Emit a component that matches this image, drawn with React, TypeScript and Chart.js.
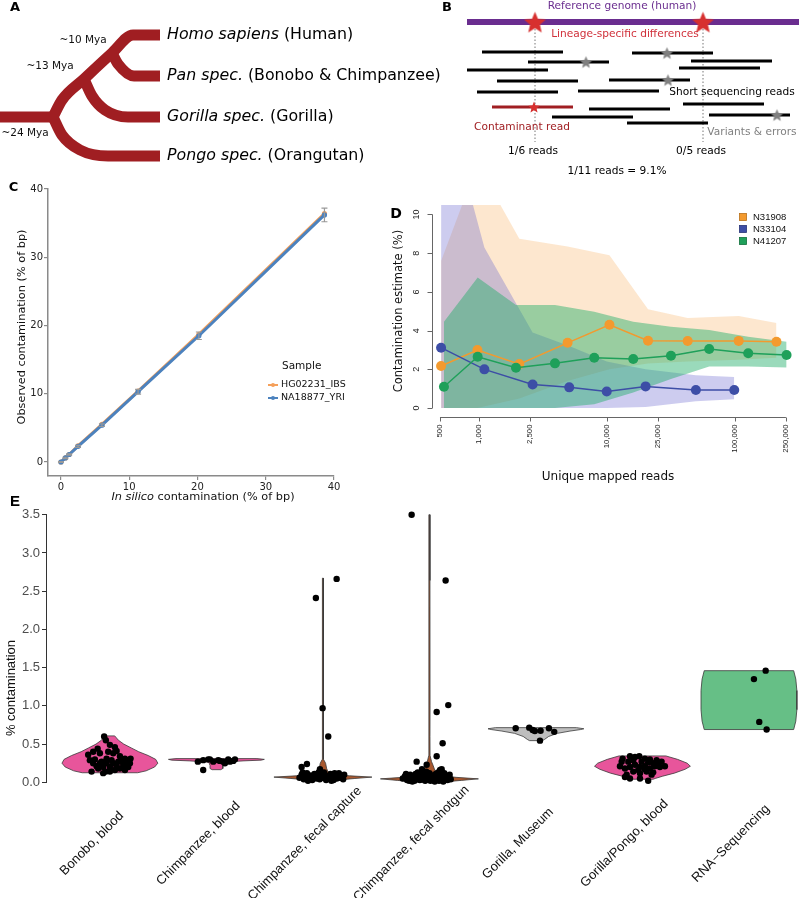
import React, { useEffect, useRef } from "react";
import { Chart, registerables } from "chart.js";

Chart.register(...registerables);

const DV = "'DejaVu Sans', sans-serif";
const LS = "'Liberation Sans', Arial, sans-serif";

/* ---------------- Panel A : phylogeny ---------------- */
const SPECIES_LATIN = ["Homo sapiens", "Pan spec.", "Gorilla spec.", "Pongo spec."];
const SPECIES_COMMON = [" (Human)", " (Bonobo & Chimpanzee)", " (Gorilla)", " (Orangutan)"];
const TIP_ROW = [35, 76, 117, 156];
const SPLIT_AGES = ["~10 Mya", "~13 Mya", "~24 Mya"];
const SPLIT_AGE_X = [83, 50, 25];
const SPLIT_AGE_ROW = [40, 66, 133];
const BRANCH_X = [
  [0, 58],
  [53, 62, 84, 112, 133, 160],
  [112, 118, 134, 160],
  [84, 92, 105, 128, 160],
  [53, 62, 80, 108, 160],
];
const BRANCH_Y = [
  [117, 117],
  [117, 100, 79, 53, 35, 35],
  [53, 64, 76, 76],
  [79, 96, 110, 117, 117],
  [117, 135, 150, 156, 156],
];
const LABEL_START = 167;

/* ---------------- Panel B : read diagram ---------------- */
const READ_START = [82, 128, 67, 97, 77, 92, 152, 178, 189, 232, 291, 279, 209, 283, 309, 227];
const READ_ROW = [52, 62, 70, 81, 92, 107, 117, 91, 109, 53, 61, 68, 80, 104, 115, 123];
const READ_LENGTH = 81;
const CONTAMINANT_READ = 5;
const SITE_POS = [135, 303];
const REF_ROW = 22;
const REF_SPAN = [67, 399];
const VARIANT_POS = [186, 267, 268, 377];
const VARIANT_ROW = [62, 53, 80, 115];
const SITE_COUNTS = ["1/6 reads", "0/5 reads"];
const TOTAL_LABEL = "1/11 reads = 9.1%";

/* ---------------- Panel C : in silico contamination ---------------- */
const C_INSILICO = [0, 0.65, 1.2, 2.5, 6.0, 11.3, 20.2, 38.6];
const C_HG02231_IBS = [0, 0.6, 1.1, 2.35, 5.5, 10.4, 18.7, 36.4];
const C_NA18877_YRI = [0, 0.6, 1.1, 2.3, 5.4, 10.3, 18.5, 36.2];
const C_ERROR = [0.05, 0.1, 0.1, 0.15, 0.2, 0.35, 0.55, 1.0];
const C_TICKS = [0, 10, 20, 30, 40];
const C_SERIES = ["HG02231_IBS", "NA18877_YRI"];

/* ---------------- Panel D : subsampling ---------------- */
const D_N31908_READS = [510, 980, 2080, 4950, 10500, 21000, 42800, 107000, 211000];
const D_N31908_EST = [2.17, 3.0, 2.27, 3.37, 4.3, 3.48, 3.46, 3.47, 3.43];
const D_N31908_HI = [7.6, 12.6, 8.75, 8.35, 7.9, 5.1, 4.65, 4.75, 4.4];
const D_N31908_LO = [0, 0, 0.5, 1.4, 2.0, 2.3, 2.4, 2.5, 2.6];
const D_N33104_READS = [510, 1110, 2640, 5100, 10000, 20100, 49600, 98800];
const D_N33104_EST = [3.12, 2.0, 1.22, 1.07, 0.86, 1.12, 0.93, 0.93];
const D_N33104_HI = [16.6, 8.3, 3.9, 3.2, 2.4, 2.0, 1.7, 1.6];
const D_N33104_LO = [0, 0, 0, 0, 0, 0.05, 0.35, 0.45];
const D_N41207_READS = [537, 984, 1958, 3946, 7990, 16100, 31700, 63000, 127000, 253000];
const D_N41207_EST = [1.1, 2.65, 2.08, 2.31, 2.6, 2.53, 2.7, 3.05, 2.83, 2.74];
const D_N41207_HI = [4.46, 6.75, 5.32, 5.32, 4.98, 4.46, 4.2, 4.03, 3.68, 3.43];
const D_N41207_LO = [0, 0, 0, 0, 0.2, 0.8, 1.5, 2.15, 2.15, 2.1];
const D_X_TICKS = [500, 1000, 2500, 10000, 25000, 100000, 250000];
const D_Y_TICKS = [0, 2, 4, 6, 8, 10];
const D_SAMPLES = ["N31908", "N33104", "N41207"];

/* ---------------- Panel E : violins ---------------- */
const E_CATEGORIES = [
  "Bonobo, blood",
  "Chimpanzee, blood",
  "Chimpanzee, fecal capture",
  "Chimpanzee, fecal shotgun",
  "Gorilla, Museum",
  "Gorilla/Pongo, blood",
  "RNA\u2212Sequencing",
];
const E_LEVELS = [
  [0.125, 0.15, 0.2, 0.25, 0.3, 0.35, 0.4, 0.45, 0.5, 0.55, 0.607],
  [0.165, 0.18, 0.22, 0.26, 0.27, 0.28, 0.29, 0.3, 0.31],
  [0.025, 0.05, 0.068, 0.085, 0.1, 0.13, 0.18, 0.25, 0.3, 0.6, 0.97, 2.41, 2.67],
  [0.0, 0.025, 0.045, 0.065, 0.09, 0.12, 0.16, 0.22, 0.27, 0.35, 0.6, 1.0, 2.64, 3.5],
  [0.545, 0.56, 0.6, 0.64, 0.67, 0.69, 0.7, 0.715],
  [0.04, 0.05, 0.08, 0.12, 0.17, 0.21, 0.25, 0.3, 0.345],
  [0.69, 0.8, 0.95, 1.08, 1.2, 1.35, 1.46],
];
const E_HALF_WIDTH = [
  [0.26, 0.34, 0.42, 0.45, 0.43, 0.36, 0.27, 0.2, 0.13, 0.08, 0.045],
  [0.04, 0.06, 0.06, 0.07, 0.12, 0.25, 0.42, 0.45, 0.38],
  [0.1, 0.3, 0.46, 0.25, 0.1, 0.05, 0.035, 0.025, 0.006, 0.005, 0.005, 0.005, 0.004],
  [0.1, 0.3, 0.46, 0.25, 0.1, 0.06, 0.05, 0.035, 0.02, 0.006, 0.005, 0.006, 0.005, 0.004],
  [0.06, 0.08, 0.12, 0.2, 0.32, 0.42, 0.45, 0.38],
  [0.1, 0.12, 0.19, 0.3, 0.4, 0.45, 0.42, 0.33, 0.22],
  [0.42, 0.44, 0.45, 0.45, 0.45, 0.44, 0.42],
];
const E_FILL = ["#E8559B", "#E8559B", "#A9582F", "#A9582F", "#BEBEBE", "#E8559B", "#66BF86"];

const BONOBO_VALUE = [0.6, 0.55, 0.44, 0.49, 0.46, 0.41, 0.36, 0.4, 0.38, 0.29, 0.3, 0.27, 0.31, 0.29, 0.34, 0.31, 0.29, 0.25, 0.23, 0.21, 0.2, 0.2, 0.21, 0.14, 0.12, 0.14, 0.14, 0.16, 0.18, 0.16, 0.2, 0.25, 0.25, 0.25, 0.27, 0.29, 0.25, 0.18, 0.38, 0.4, 0.25, 0.31];
const BONOBO_JITTER = [-0.054, -0.038, -0.115, 0, 0.047, 0.063, -0.204, -0.157, -0.094, -0.188, -0.141, -0.078, -0.031, 0.016, 0.094, 0.141, 0.172, 0.188, 0.125, 0.063, 0, -0.063, -0.125, -0.172, -0.063, -0.038, 0, 0.047, 0.094, 0.141, 0.172, -0.094, -0.031, 0.031, 0.078, 0.11, -0.157, -0.11, 0.031, -0.016, 0.15, 0.194];
const CHIMP_BLOOD_VALUE = [0.27, 0.16, 0.3, 0.27, 0.29, 0.27, 0.3, 0.28, 0.3, 0.25, 0.29, 0.3, 0.27, 0.28];
const CHIMP_BLOOD_JITTER = [-0.174, -0.124, -0.077, -0.03, 0.017, 0.064, 0.111, 0.158, 0.174, 0.08, -0.124, -0.061, 0.127, 0.033];
const FECAL_CAPTURE_VALUE = [2.66, 2.41, 0.97, 0.6, 0.2, 0.24, 0.17, 0.06, 0.1, 0.04, 0.08, 0.12, 0.05, 0.09, 0.03, 0.07, 0.11, 0.05, 0.08, 0.04, 0.1, 0.06, 0.13, 0.03, 0.08, 0.05, 0.11, 0.07, 0.03, 0.09, 0.05, 0.12, 0.06, 0.08, 0.04, 0.1, 0.02, 0.02, 0.13, 0.12, 0.13];
const FECAL_CAPTURE_JITTER = [0.129, -0.066, -0.003, 0.05, -0.2, -0.15, -0.028, -0.22, -0.2, -0.18, -0.16, -0.15, -0.13, -0.12, -0.1, -0.09, -0.08, -0.06, -0.05, -0.03, -0.02, 0.0, 0.01, 0.03, 0.04, 0.06, 0.07, 0.09, 0.1, 0.12, 0.13, 0.15, 0.16, 0.18, 0.19, 0.2, -0.14, 0.08, -0.04, 0.11, -0.19];
const FECAL_SHOTGUN_VALUE = [3.5, 2.64, 1.01, 0.92, 0.51, 0.34, 0.27, 0.23, 0.17, 0.05, 0.08, 0.03, 0.06, 0.1, 0.04, 0.07, 0.02, 0.11, 0.05, 0.08, 0.03, 0.06, 0.12, 0.04, 0.09, 0.02, 0.06, 0.1, 0.04, 0.07, 0.02, 0.05, 0.09, 0.03, 0.06, 0.11, 0.04, 0.08, 0.02, 0.05, 0.1, 0.03, 0.07, 0.12, 0.05, 0.08, 0.03, 0.06, 0.1, 0.04, 0.11, 0.01, 0.13, 0.12, 0.01, 0.02, 0.01, 0.14, 0.13, 0.16, 0.17];
const FECAL_SHOTGUN_JITTER = [-0.167, 0.152, 0.177, 0.068, 0.124, 0.068, -0.12, -0.026, 0.115, -0.25, -0.23, -0.21, -0.2, -0.18, -0.17, -0.15, -0.14, -0.13, -0.12, -0.1, -0.09, -0.08, -0.07, -0.06, -0.05, -0.04, -0.03, -0.02, -0.01, 0.0, 0.01, 0.02, 0.03, 0.04, 0.05, 0.06, 0.07, 0.08, 0.09, 0.1, 0.11, 0.12, 0.13, 0.14, 0.15, 0.16, 0.17, 0.18, 0.19, 0.2, -0.22, -0.16, -0.11, 0.0, 0.05, -0.19, 0.13, -0.03, 0.08, 0.1, -0.07];
const GORILLA_MUSEUM_VALUE = [0.707, 0.715, 0.685, 0.67, 0.675, 0.707, 0.66, 0.545];
const GORILLA_MUSEUM_JITTER = [-0.19, -0.063, -0.031, -0.01, 0.044, 0.122, 0.172, 0.038];
const GORILLA_PONGO_VALUE = [0.31, 0.34, 0.33, 0.34, 0.31, 0.3, 0.29, 0.27, 0.21, 0.21, 0.18, 0.2, 0.23, 0.2, 0.21, 0.18, 0.21, 0.2, 0.14, 0.12, 0.14, 0.13, 0.1, 0.07, 0.05, 0.05, 0.02, 0.27, 0.27, 0.29, 0.27, 0.26, 0.25, 0.24, 0.16, 0.17, 0.1];
const GORILLA_PONGO_JITTER = [-0.186, -0.117, -0.07, -0.03, 0.023, 0.07, 0.133, 0.18, 0.211, -0.211, -0.164, -0.117, -0.07, -0.023, 0.023, 0.07, 0.117, 0.164, -0.086, -0.023, 0.039, 0.101, -0.148, -0.164, -0.117, -0.023, 0.054, -0.195, -0.133, -0.086, -0.008, 0.054, 0.101, 0.148, -0.039, 0.023, 0.086];
const RNA_VALUE = [1.46, 1.35, 0.79, 0.69];
const RNA_JITTER = [0.157, 0.047, 0.097, 0.166];

const E_VALUES = [BONOBO_VALUE, CHIMP_BLOOD_VALUE, FECAL_CAPTURE_VALUE, FECAL_SHOTGUN_VALUE, GORILLA_MUSEUM_VALUE, GORILLA_PONGO_VALUE, RNA_VALUE];
const E_JITTERS = [BONOBO_JITTER, CHIMP_BLOOD_JITTER, FECAL_CAPTURE_JITTER, FECAL_SHOTGUN_JITTER, GORILLA_MUSEUM_JITTER, GORILLA_PONGO_JITTER, RNA_JITTER];

/* ---------------- helpers ---------------- */
const BASE: any = {
  responsive: false,
  maintainAspectRatio: false,
  animation: false,
  devicePixelRatio: 1,
  events: [],
  plugins: { legend: { display: false }, tooltip: { enabled: false }, title: { display: false } },
};

function text(ctx: any, s: string, x: number, y: number, font: string, color: string, align: any = "center", baseline: any = "middle", rot = 0) {
  ctx.save();
  ctx.translate(x, y);
  if (rot) ctx.rotate(rot);
  ctx.font = font;
  ctx.fillStyle = color;
  ctx.textAlign = align;
  ctx.textBaseline = baseline;
  ctx.fillText(s, 0, 0);
  ctx.restore();
}

function mixed(ctx: any, parts: [string, string][], x: number, y: number, color: string, align = "left") {
  ctx.save();
  let total = 0;
  const widths = parts.map(([s, f]) => {
    ctx.font = f;
    const w = ctx.measureText(s).width;
    total += w;
    return w;
  });
  let cx = align === "center" ? x - total / 2 : x;
  ctx.fillStyle = color;
  ctx.textAlign = "left";
  ctx.textBaseline = "middle";
  parts.forEach(([s, f], i) => {
    ctx.font = f;
    ctx.fillText(s, cx, y);
    cx += widths[i];
  });
  ctx.restore();
}

function starImage(r: number, color: string) {
  const c = document.createElement("canvas");
  const s = Math.ceil(2 * r + 2);
  c.width = s;
  c.height = s;
  const g = c.getContext("2d") as CanvasRenderingContext2D;
  g.translate(s / 2, s / 2 + r * 0.1);
  g.beginPath();
  for (let i = 0; i < 10; i++) {
    const rr = i % 2 === 0 ? r : r * 0.45;
    const a = -Math.PI / 2 + (i * Math.PI) / 5;
    g.lineTo(rr * Math.cos(a), rr * Math.sin(a));
  }
  g.closePath();
  g.fillStyle = color;
  g.fill();
  return c;
}

function ChartBox({ left, top, width, height, build }: any) {
  const ref = useRef<HTMLCanvasElement>(null);
  useEffect(() => {
    const chart = new Chart(ref.current as HTMLCanvasElement, build());
    return () => chart.destroy();
  }, []);
  return (
    <canvas
      ref={ref}
      width={width}
      height={height}
      style={{ position: "absolute", left, top, width, height }}
    />
  );
}

/* ---------------- builders ---------------- */
const TREE_COLOR = "#A01E22";

function buildA(): any {
  const datasets = BRANCH_X.map((xs, b) => ({
    data: xs.map((x, k) => ({ x, y: BRANCH_Y[b][k] })),
    showLine: true,
    borderColor: TREE_COLOR,
    borderWidth: 11,
    pointRadius: 0,
    cubicInterpolationMode: "monotone",
    borderCapStyle: "butt",
    clip: false,
  }));
  const deco = {
    id: "aDeco",
    afterDatasetsDraw(chart: any) {
      const { ctx, scales } = chart;
      const X = (v: number) => scales.x.getPixelForValue(v);
      const Y = (v: number) => scales.y.getPixelForValue(v);
      text(ctx, "A", 15, 8, `bold 13px ${DV}`, "#000");
      SPLIT_AGES.forEach((s, i) => text(ctx, s, X(SPLIT_AGE_X[i]), Y(SPLIT_AGE_ROW[i]), `10.5px ${DV}`, "#111"));
      SPECIES_LATIN.forEach((s, i) =>
        mixed(ctx, [[s, `italic 15.8px ${DV}`], [SPECIES_COMMON[i], `15.8px ${DV}`]], X(LABEL_START), Y(TIP_ROW[i]), "#000")
      );
    },
  };
  return {
    type: "scatter",
    data: { datasets },
    options: {
      ...BASE,
      layout: { padding: 0, autoPadding: false },
      scales: {
        x: { type: "linear", display: false, min: 0, max: 445 },
        y: { type: "linear", display: false, min: 0, max: 190, reverse: true },
      },
    },
    plugins: [deco],
  };
}

function buildB(): any {
  const PURPLE = "#6A2D8F";
  const RED = "#D7302F";
  const datasets: any[] = [];
  READ_START.forEach((s, i) => {
    datasets.push({
      data: [{ x: s, y: READ_ROW[i] }, { x: s + READ_LENGTH, y: READ_ROW[i] }],
      showLine: true,
      borderColor: i === CONTAMINANT_READ ? TREE_COLOR : "#000",
      borderWidth: 3,
      pointRadius: 0,
      order: 1,
      clip: false,
    });
  });
  datasets.push({
    data: [{ x: REF_SPAN[0], y: REF_ROW }, { x: REF_SPAN[1], y: REF_ROW }],
    showLine: true,
    borderColor: PURPLE,
    borderWidth: 6,
    pointRadius: 0,
    order: 3,
    clip: false,
  });
  SITE_POS.forEach((p) =>
    datasets.push({
      data: [{ x: p, y: REF_ROW }, { x: p, y: 142 }],
      showLine: true,
      borderColor: "#777",
      borderWidth: 1,
      borderDash: [1.5, 2],
      pointRadius: 0,
      order: 2,
      clip: false,
    })
  );
  const bigStar = starImage(11.5, RED);
  const smallStar = starImage(6, RED);
  const grayStar = starImage(6.5, "#808080");
  datasets.push({
    data: SITE_POS.map((p) => ({ x: p, y: REF_ROW })),
    pointStyle: bigStar,
    pointRadius: 10,
    order: 0,
    clip: false,
  });
  datasets.push({
    data: [{ x: SITE_POS[0] - 1, y: READ_ROW[CONTAMINANT_READ] }],
    pointStyle: smallStar,
    pointRadius: 5,
    order: 0,
    clip: false,
  });
  datasets.push({
    data: VARIANT_POS.map((p, i) => ({ x: p, y: VARIANT_ROW[i] })),
    pointStyle: grayStar,
    pointRadius: 5,
    order: 0,
    clip: false,
  });
  const deco = {
    id: "bDeco",
    afterDatasetsDraw(chart: any) {
      const { ctx, scales } = chart;
      const X = (v: number) => scales.x.getPixelForValue(v);
      const Y = (v: number) => scales.y.getPixelForValue(v);
      const f = `10.6px ${DV}`;
      text(ctx, "B", 47, 8, `bold 13px ${DV}`, "#000");
      text(ctx, "Reference genome (human)", X(222), Y(6.5), f, PURPLE);
      text(ctx, "Lineage-specific differences", X(225), Y(34), f, "#D0303A");
      text(ctx, "Short sequencing reads", X(332), Y(92), f, "#000");
      text(ctx, "Contaminant read", X(122), Y(127), f, TREE_COLOR);
      text(ctx, "Variants & errors", X(352), Y(132), f, "#808080");
      SITE_COUNTS.forEach((s, i) => text(ctx, s, X(SITE_POS[i] - 2), Y(151), f, "#000"));
      text(ctx, TOTAL_LABEL, X(217), Y(171), f, "#000");
    },
  };
  return {
    type: "scatter",
    data: { datasets },
    options: {
      ...BASE,
      layout: { padding: 0, autoPadding: false },
      scales: {
        x: { type: "linear", display: false, min: 0, max: 399 },
        y: { type: "linear", display: false, min: 0, max: 190, reverse: true },
      },
    },
    plugins: [deco],
  };
}

function buildC(): any {
  const BLUE = "#4C82BE";
  const ORANGE = "#F5A05A";
  const AX = "#8a8a8a";
  const series = [
    { name: C_SERIES[1], vals: C_NA18877_YRI, color: BLUE },
    { name: C_SERIES[0], vals: C_HG02231_IBS, color: ORANGE },
  ];
  const datasets = series.map((s) => ({
    label: s.name,
    data: C_INSILICO.map((x, i) => ({ x, y: s.vals[i] })),
    showLine: true,
    borderColor: s.color,
    backgroundColor: s.color,
    pointBackgroundColor: s.color,
    borderWidth: 3,
    pointRadius: 2.6,
    pointBorderWidth: 0,
  }));
  const axis = (isX: boolean) => ({
    type: "linear",
    min: isX ? -1.9 : -2.05,
    max: 40,
    afterFit: (s: any) => {
      if (isX) s.height = 29;
      else s.width = 48;
    },
    afterBuildTicks: (s: any) => {
      s.ticks = C_TICKS.map((v) => ({ value: v }));
    },
    ticks: { font: { family: "DejaVu Sans", size: 10 }, color: "#222", padding: 1, maxRotation: 0 },
    grid: { display: true, drawOnChartArea: false, drawTicks: true, tickLength: 4, color: AX, lineWidth: 1.2 },
    border: { display: true, color: AX, width: 1.5 },
  });
  const deco = {
    id: "cDeco",
    afterDatasetsDraw(chart: any) {
      const { ctx, scales } = chart;
      const X = (v: number) => scales.x.getPixelForValue(v);
      const Y = (v: number) => scales.y.getPixelForValue(v);
      ctx.save();
      ctx.strokeStyle = "#999";
      ctx.lineWidth = 1.2;
      C_INSILICO.forEach((x, i) => {
        const px = X(x);
        const y1 = Y(C_NA18877_YRI[i] - C_ERROR[i]);
        const y2 = Y(C_NA18877_YRI[i] + C_ERROR[i]);
        ctx.beginPath();
        ctx.moveTo(px, y1);
        ctx.lineTo(px, y2);
        ctx.moveTo(px - 3, y1);
        ctx.lineTo(px + 3, y1);
        ctx.moveTo(px - 3, y2);
        ctx.lineTo(px + 3, y2);
        ctx.stroke();
      });
      ctx.restore();
    },
    afterDraw(chart: any) {
      const ctx = chart.ctx;
      text(ctx, "C", 13.5, 8, `bold 13px ${DV}`, "#000");
      text(ctx, "Observed contamination (% of bp)", 22, 147, `11.3px ${DV}`, "#111", "center", "middle", -Math.PI / 2);
      mixed(ctx, [["In silico", `italic 11.3px ${DV}`], [" contamination (% of bp)", `11.3px ${DV}`]], 203, 317, "#111", "center");
      text(ctx, "Sample", 282, 186, `10.5px ${DV}`, "#111", "left");
      [ORANGE, BLUE].forEach((col, i) => {
        const y = 205 + i * 13;
        ctx.save();
        ctx.strokeStyle = col;
        ctx.fillStyle = col;
        ctx.lineWidth = 2;
        ctx.beginPath();
        ctx.moveTo(268, y);
        ctx.lineTo(278, y);
        ctx.stroke();
        ctx.beginPath();
        ctx.arc(273, y, 2, 0, Math.PI * 2);
        ctx.fill();
        ctx.restore();
        text(ctx, C_SERIES[i], 281, y, `9.5px ${DV}`, "#111", "left");
      });
    },
  };
  return {
    type: "scatter",
    data: { datasets },
    options: {
      ...BASE,
      layout: { padding: { top: 9, right: 61, left: 0, bottom: 0 }, autoPadding: false },
      scales: { x: axis(true), y: axis(false) },
    },
    plugins: [deco],
  };
}

function buildD(): any {
  const COLS = ["#F39A2E", "#3D4EA6", "#1FA05A"];
  const EDGE = ["#B8701A", "#283478", "#12703C"];
  const BANDS = ["rgba(250,175,95,0.3)", "rgba(100,95,205,0.32)", "rgba(30,172,105,0.45)"];
  const READS = [D_N31908_READS, D_N33104_READS, D_N41207_READS];
  const EST = [D_N31908_EST, D_N33104_EST, D_N41207_EST];
  const HI = [D_N31908_HI, D_N33104_HI, D_N41207_HI];
  const LO = [D_N31908_LO, D_N33104_LO, D_N41207_LO];
  const pts = (xs: number[], ys: number[]) => xs.map((x, i) => ({ x, y: ys[i] }));
  const datasets: any[] = [];
  [2, 1, 0].forEach((s) =>
    datasets.push({
      data: pts(READS[s], EST[s]),
      borderColor: COLS[s],
      backgroundColor: COLS[s],
      pointBackgroundColor: COLS[s],
      borderWidth: 1.5,
      pointRadius: 5,
      pointBorderWidth: 0,
      fill: false,
      order: 0,
    })
  );
  [2, 1, 0].forEach((s) => {
    const ord = [30, 20, 10][s];
    datasets.push({
      data: pts(READS[s], HI[s]),
      borderWidth: 0,
      pointRadius: 0,
      fill: "+1",
      backgroundColor: BANDS[s],
      order: ord,
    });
    datasets.push({
      data: pts(READS[s], LO[s]),
      borderWidth: 0,
      pointRadius: 0,
      fill: false,
      order: ord,
    });
  });
  const deco = {
    id: "dDeco",
    afterDraw(chart: any) {
      const { ctx, scales, chartArea } = chart;
      const X = (v: number) => scales.x.getPixelForValue(v);
      const Y = (v: number) => scales.y.getPixelForValue(v);
      ctx.save();
      ctx.strokeStyle = "#666";
      ctx.lineWidth = 1;
      const ax = Math.round(chartArea.left) + 0.5;
      ctx.beginPath();
      ctx.moveTo(ax, Y(0));
      ctx.lineTo(ax, Y(10));
      D_Y_TICKS.forEach((v) => {
        const py = Math.round(Y(v)) + 0.5;
        ctx.moveTo(ax, py);
        ctx.lineTo(ax - 5, py);
      });
      const ay = Math.round(chartArea.bottom) + 1.5;
      ctx.moveTo(X(D_X_TICKS[0]), ay);
      ctx.lineTo(X(D_X_TICKS[D_X_TICKS.length - 1]), ay);
      D_X_TICKS.forEach((v) => {
        const px = Math.round(X(v)) + 0.5;
        ctx.moveTo(px, ay);
        ctx.lineTo(px, ay + 4);
      });
      ctx.stroke();
      ctx.restore();
      D_Y_TICKS.forEach((v) => text(ctx, String(v), 32, Y(v), `9px ${LS}`, "#222", "center", "middle", -Math.PI / 2));
      D_X_TICKS.forEach((v) =>
        text(ctx, v.toLocaleString("en-US"), X(v), ay + 7, `7.8px ${LS}`, "#222", "right", "middle", -Math.PI / 2)
      );
      text(ctx, "D", 11, 24, `bold 14px ${DV}`, "#000");
      text(ctx, "Contamination estimate (%)", 14, 121, `11.5px ${DV}`, "#111", "center", "middle", -Math.PI / 2);
      text(ctx, "Unique mapped reads", 223, 287, `12px ${DV}`, "#111");
      D_SAMPLES.forEach((s, i) => {
        const y = 27 + i * 12;
        ctx.save();
        ctx.fillStyle = COLS[i];
        ctx.strokeStyle = EDGE[i];
        ctx.lineWidth = 0.8;
        ctx.fillRect(354.5, y - 3.5, 7, 7);
        ctx.strokeRect(354.5, y - 3.5, 7, 7);
        ctx.restore();
        text(ctx, s, 368, y, `9.5px ${LS}`, "#111", "left");
      });
    },
  };
  return {
    type: "line",
    data: { datasets },
    options: {
      ...BASE,
      layout: { padding: { left: 47, top: 15, right: 0, bottom: 69 }, autoPadding: false },
      scales: {
        x: { type: "logarithmic", display: false, min: 433.2, max: 316228 },
        y: { type: "linear", display: false, min: -0.41, max: 10.49 },
      },
    },
    plugins: [deco],
  };
}

function buildE(): any {
  const datasets: any[] = [];
  E_LEVELS.forEach((lv, i) => {
    const hw = E_HALF_WIDTH[i];
    const c = i + 1;
    const poly: any[] = [];
    for (let k = 0; k < lv.length; k++) poly.push({ x: c - hw[k], y: lv[k] });
    for (let k = lv.length - 1; k >= 0; k--) poly.push({ x: c + hw[k], y: lv[k] });
    poly.push({ x: c - hw[0], y: lv[0] });
    datasets.push({
      data: poly,
      showLine: true,
      fill: "shape",
      backgroundColor: E_FILL[i],
      borderColor: "#3a3a3a",
      borderWidth: 0.8,
      pointRadius: 0,
      tension: 0,
      order: 2,
      clip: false,
    });
  });
  E_VALUES.forEach((vals, i) => {
    datasets.push({
      data: vals.map((v, k) => ({ x: i + 1 + E_JITTERS[i][k], y: v })),
      pointRadius: 3.2,
      pointBackgroundColor: "#000",
      backgroundColor: "#000",
      pointBorderWidth: 0,
      order: 0,
      clip: false,
    });
  });
  const deco = {
    id: "eDeco",
    afterDraw(chart: any) {
      const { ctx, scales } = chart;
      const X = (v: number) => scales.x.getPixelForValue(v);
      text(ctx, "E", 15, 11.5, `bold 15px ${LS}`, "#000");
      text(ctx, "% contamination", 11.5, 198, `13px ${LS}`, "#111", "center", "middle", -Math.PI / 2);
      E_CATEGORIES.forEach((s, i) => text(ctx, s, X(i + 1) - 18, 353.5, `13px ${LS}`, "#111", "center", "middle", -Math.PI / 4));
    },
  };
  return {
    type: "scatter",
    data: { datasets },
    options: {
      ...BASE,
      layout: { padding: { left: 0, top: 24.7, right: 0, bottom: 115.7 }, autoPadding: false },
      scales: {
        x: { type: "linear", display: false, min: 0.4, max: 7.47 },
        y: {
          type: "linear",
          min: 0,
          max: 3.5,
          afterFit: (s: any) => {
            s.width = 46;
          },
          ticks: {
            stepSize: 0.5,
            callback: (v: any) => Number(v).toFixed(1),
            font: { family: "Liberation Sans", size: 13 },
            color: "#4d4d4d",
            padding: 2,
          },
          grid: { display: true, drawOnChartArea: false, drawTicks: true, tickLength: 4, color: "#333", lineWidth: 1 },
          border: { display: true, color: "#333", width: 1 },
        },
      },
    },
    plugins: [deco],
  };
}

export default function App() {
  return (
    <div style={{ position: "absolute", left: 0, top: 0, width: 799, height: 898, background: "#fff", overflow: "hidden" }}>
      <ChartBox left={0} top={0} width={445} height={190} build={buildA} />
      <ChartBox left={400} top={0} width={399} height={190} build={buildB} />
      <ChartBox left={0} top={180} width={395} height={325} build={buildC} />
      <ChartBox left={385} top={190} width={414} height={295} build={buildD} />
      <ChartBox left={0} top={490} width={799} height={408} build={buildE} />
    </div>
  );
}
